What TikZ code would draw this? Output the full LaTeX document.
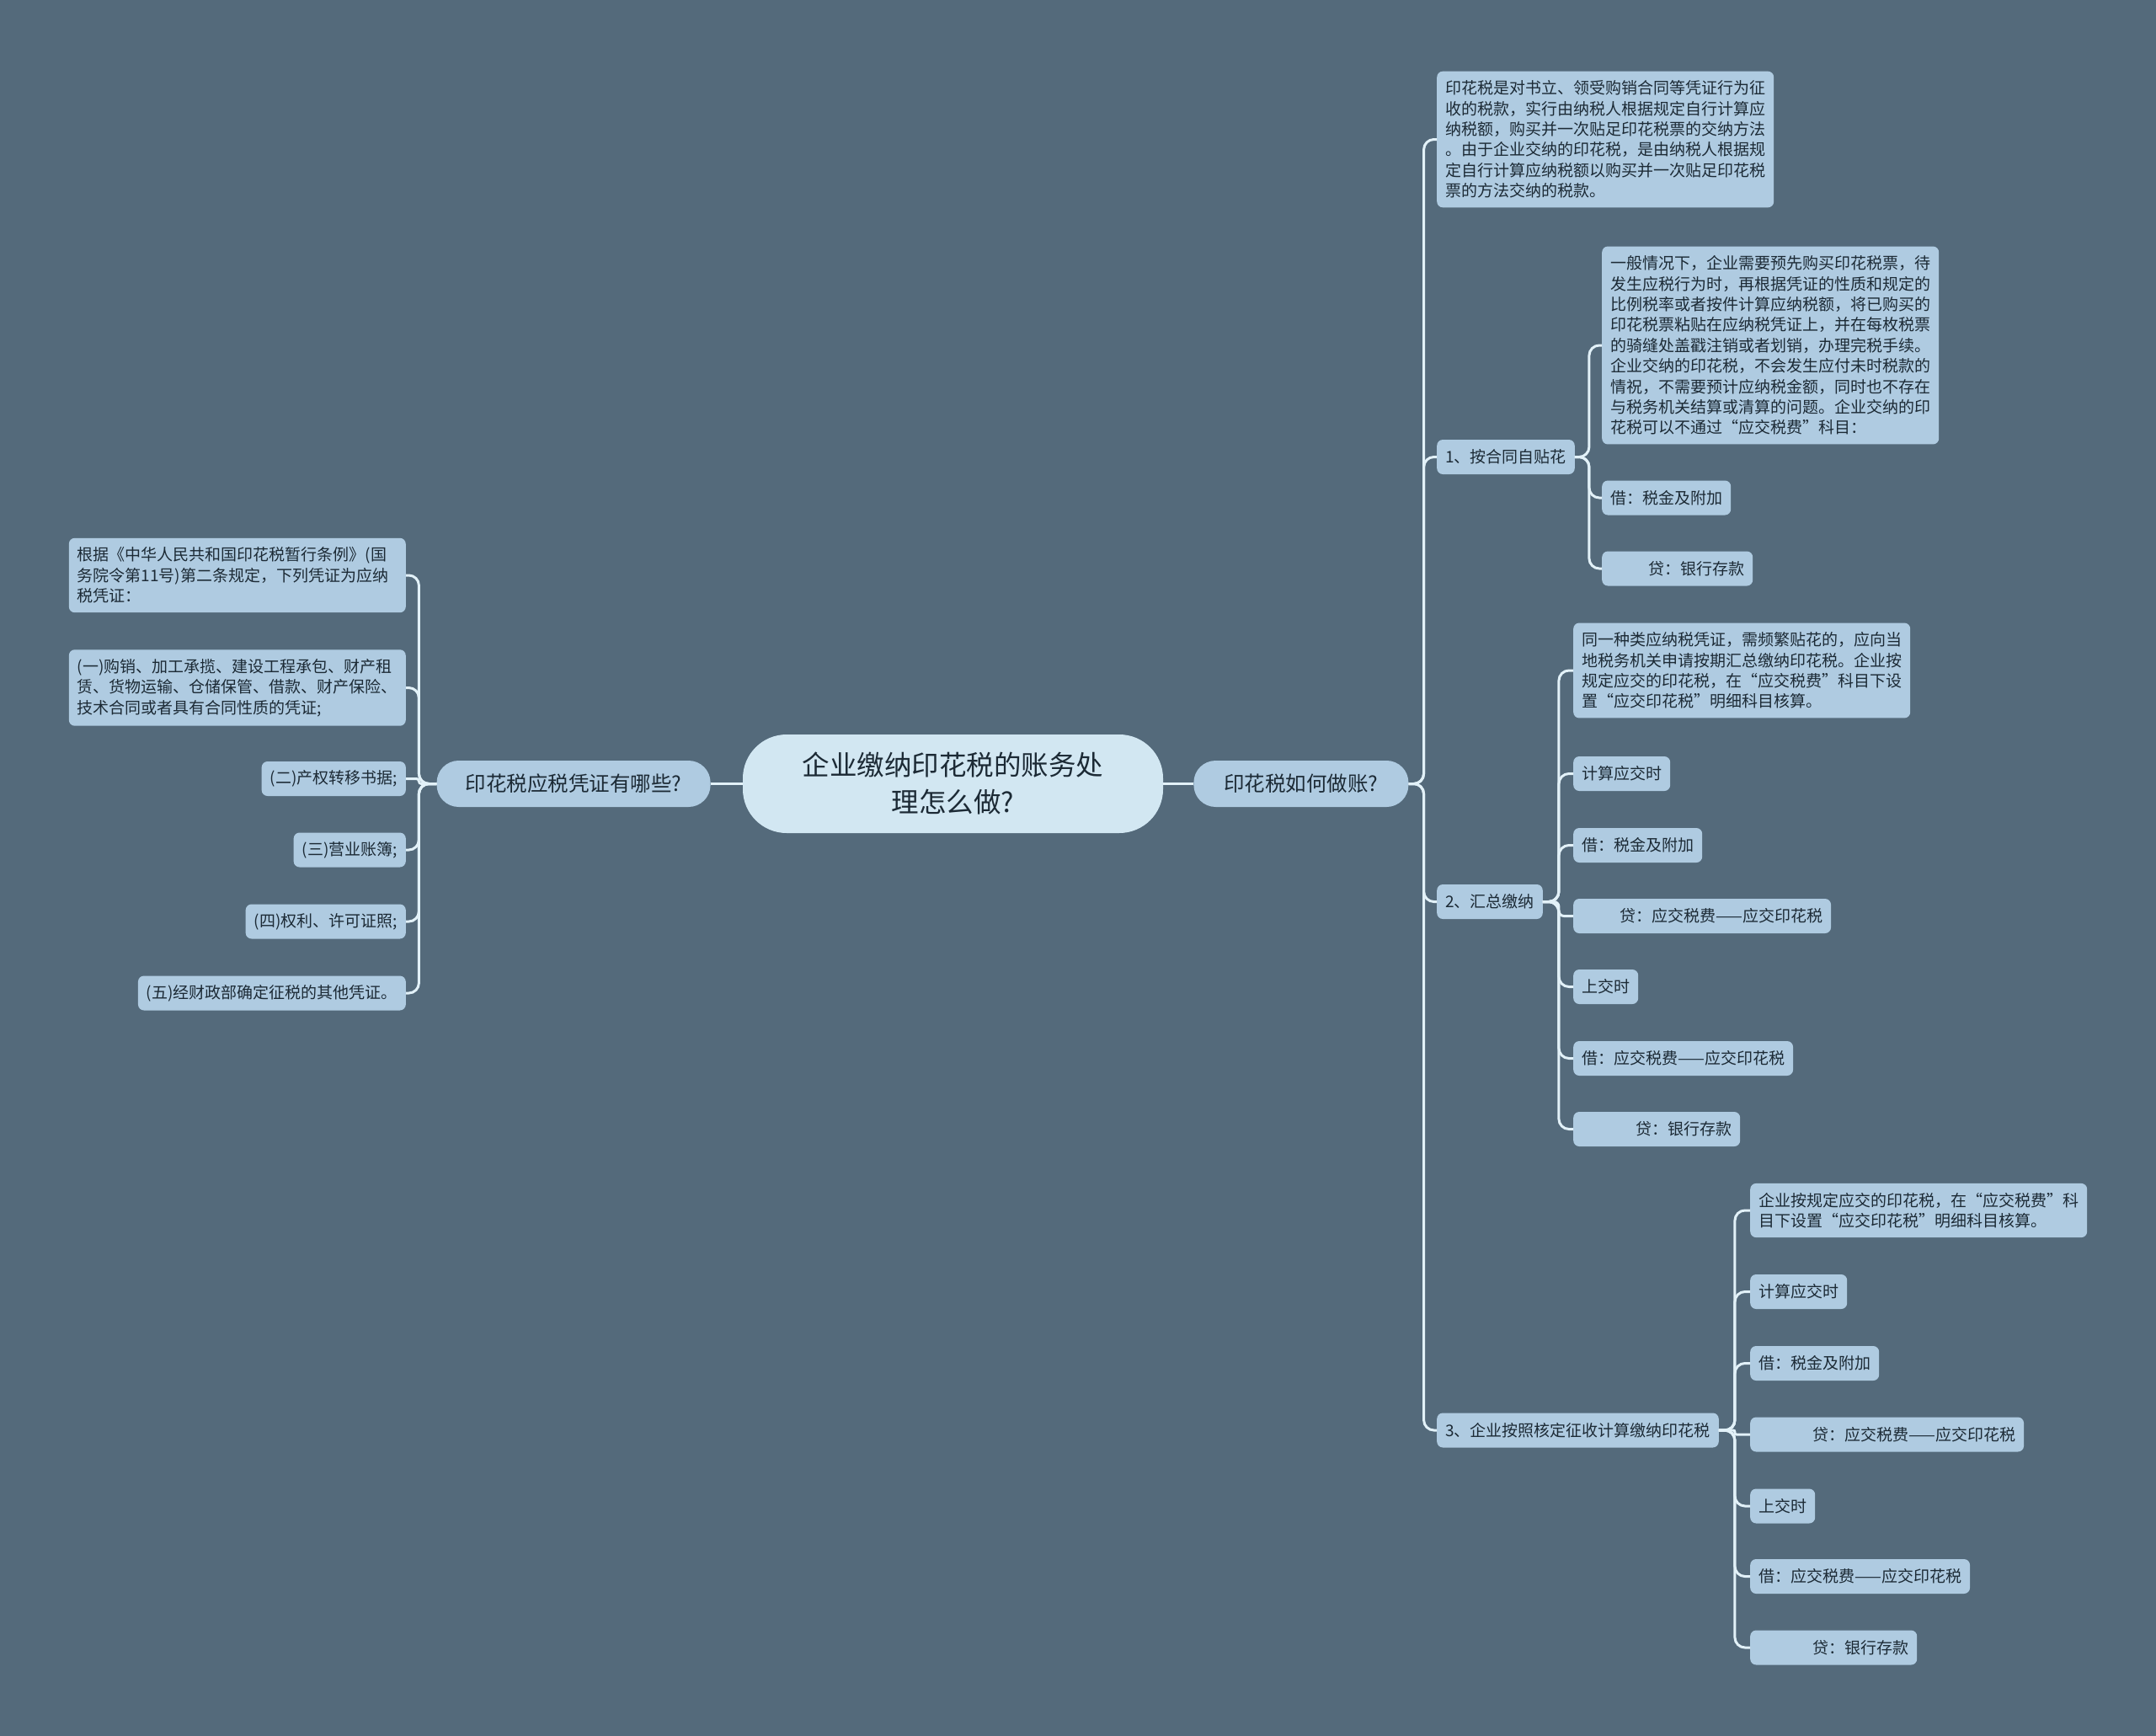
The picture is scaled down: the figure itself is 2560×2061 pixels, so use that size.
\documentclass[tikz,border=0pt]{standalone}
\usepackage{fontspec}
\newfontfamily\cjk{Noto Sans CJK SC}
\usepackage{tikz}
\usetikzlibrary{positioning}
\definecolor{MapBack}{HTML}{546A7B}
\definecolor{MapNode}{HTML}{AFCBE1}
\definecolor{MapRoot}{HTML}{D2E7F2}
\definecolor{MapLine}{HTML}{E2F1F8}
\definecolor{MapText}{HTML}{1C2A35}

\begin{document}
\begin{tikzpicture}[x=1pt,y=-1pt]
  \tikzstyle{rootbox}=[fill=MapRoot,rounded corners=52pt,minimum width=499pt,
    minimum height=117pt,align=center,text=MapText,
    font=\cjk\fontsize{32.5}{44}\selectfont]
  \tikzstyle{mainbox}=[fill=MapNode,rounded corners=26pt,minimum height=55pt,
    text=MapText,font=\cjk\fontsize{24.5}{28}\selectfont]
  \tikzstyle{leafbox}=[fill=MapNode,rounded corners=7pt,minimum height=41pt,
    inner xsep=10pt,text=MapText,font=\cjk\fontsize{19}{24.4}\selectfont]
  \tikzstyle{notebox}=[leafbox,align=left,text width=380pt,inner ysep=11pt]
  \tikzstyle{link}=[draw=MapLine,line width=3pt,rounded corners=12pt]
  \fill[MapBack] (0,0) rectangle (2560,2061);
  \node[rootbox] (root) at (1131.5,930.5) {企业缴纳印花税的账务处\\理怎么做?};
  \node[mainbox,minimum width=255pt,right=36pt of root] (howto) {印花税如何做账?};
  \node[mainbox,minimum width=325pt,left=38pt of root] (which) {印花税应税凭证有哪些?};
  % right side
  \node[notebox,anchor=west] (r1) at (1706,165.5) {印花税是对书立、领受购销合同等凭证行为征\\
    收的税款，实行由纳税人根据规定自行计算应\\
    纳税额，购买并一次贴足印花税票的交纳方法\\
    。由于企业交纳的印花税，是由纳税人根据规\\
    定自行计算应纳税额以购买并一次贴足印花税\\
    票的方法交纳的税款。};
  \node[leafbox,anchor=west] (r2) at (1706,542.5) {1、按合同自贴花};
  \node[leafbox,anchor=west] (r3) at (1706,1070.5) {2、汇总缴纳};
  \node[leafbox,anchor=west] (r4) at (1706,1698) {3、企业按照核定征收计算缴纳印花税};
  % 1
  \node[notebox,anchor=west] (r2a) at (1902,410) {一般情况下，企业需要预先购买印花税票，待\\
    发生应税行为时，再根据凭证的性质和规定的\\
    比例税率或者按件计算应纳税额，将已购买的\\
    印花税票粘贴在应纳税凭证上，并在每枚税票\\
    的骑缝处盖戳注销或者划销，办理完税手续。\\
    企业交纳的印花税，不会发生应付未时税款的\\
    情祝，不需要预计应纳税金额，同时也不存在\\
    与税务机关结算或清算的问题。企业交纳的印\\
    花税可以不通过“应交税费”科目：};
  \node[leafbox,anchor=west] (r2b) at (1902,591) {借：税金及附加};
  \node[leafbox,anchor=west] (r2c) at (1902,675) {\hspace*{45pt}贷：银行存款};
  % 2
  \node[notebox,anchor=west] (r3a) at (1868,796) {同一种类应纳税凭证，需频繁贴花的，应向当\\
    地税务机关申请按期汇总缴纳印花税。企业按\\
    规定应交的印花税，在“应交税费”科目下设\\
    置“应交印花税”明细科目核算。};
  \node[leafbox,anchor=west] (r3b) at (1868,918.5) {计算应交时};
  \node[leafbox,anchor=west] (r3c) at (1868,1003.5) {借：税金及附加};
  \node[leafbox,anchor=west] (r3d) at (1868,1087.5) {\hspace*{45pt}贷：应交税费——应交印花税};
  \node[leafbox,anchor=west] (r3e) at (1868,1171.5) {上交时};
  \node[leafbox,anchor=west] (r3f) at (1868,1256.5) {借：应交税费——应交印花税};
  \node[leafbox,anchor=west] (r3g) at (1868,1340.5) {\hspace*{64pt}贷：银行存款};
  % 3
  \node[notebox,anchor=west] (r4a) at (2078,1437) {企业按规定应交的印花税，在“应交税费”科\\
    目下设置“应交印花税”明细科目核算。};
  \node[leafbox,anchor=west] (r4b) at (2078,1533.5) {计算应交时};
  \node[leafbox,anchor=west] (r4c) at (2078,1618.5) {借：税金及附加};
  \node[leafbox,anchor=west] (r4d) at (2078,1703) {\hspace*{64pt}贷：应交税费——应交印花税};
  \node[leafbox,anchor=west] (r4e) at (2078,1788) {上交时};
  \node[leafbox,anchor=west] (r4f) at (2078,1871.5) {借：应交税费——应交印花税};
  \node[leafbox,anchor=west] (r4g) at (2078,1956) {\hspace*{64pt}贷：银行存款};
  % left side
  \node[notebox,anchor=east] (l1) at (482,683) {根据《中华人民共和国印花税暂行条例》(国\\
    务院令第11号)第二条规定，下列凭证为应纳\\
    税凭证：};
  \node[notebox,anchor=east] (l2) at (482,816.5) {(一)购销、加工承揽、建设工程承包、财产租\\
    赁、货物运输、仓储保管、借款、财产保险、\\
    技术合同或者具有合同性质的凭证;};
  \node[leafbox,anchor=east] (l3) at (482,924.5) {(二)产权转移书据;};
  \node[leafbox,anchor=east] (l4) at (482,1009) {(三)营业账簿;};
  \node[leafbox,anchor=east] (l5) at (482,1094) {(四)权利、许可证照;};
  \node[leafbox,anchor=east] (l6) at (482,1179) {(五)经财政部确定征税的其他凭证。};
  % connectors
  \draw[link] (root.east) -- (howto.west);
  \draw[link] (root.west) -- (which.east);
  \draw[link] (howto.east) -- ++(18,0) |- (r1.west);
  \draw[link] (howto.east) -- ++(18,0) |- (r2.west);
  \draw[link] (howto.east) -- ++(18,0) |- (r3.west);
  \draw[link] (howto.east) -- ++(18,0) |- (r4.west);
  \draw[link] (r2.east) -- ++(17,0) |- (r2a.west);
  \draw[link] (r2.east) -- ++(17,0) |- (r2b.west);
  \draw[link] (r2.east) -- ++(17,0) |- (r2c.west);
  \draw[link] (r3.east) -- ++(19,0) |- (r3a.west);
  \draw[link] (r3.east) -- ++(19,0) |- (r3b.west);
  \draw[link] (r3.east) -- ++(19,0) |- (r3c.west);
  \draw[link,rounded corners=6pt] (r3.east) -- ++(19,0) |- (r3d.west);
  \draw[link] (r3.east) -- ++(19,0) |- (r3e.west);
  \draw[link] (r3.east) -- ++(19,0) |- (r3f.west);
  \draw[link] (r3.east) -- ++(19,0) |- (r3g.west);
  \draw[link] (r4.east) -- ++(19,0) |- (r4a.west);
  \draw[link] (r4.east) -- ++(19,0) |- (r4b.west);
  \draw[link] (r4.east) -- ++(19,0) |- (r4c.west);
  \draw[link,rounded corners=2pt] (r4.east) -- ++(19,0) |- (r4d.west);
  \draw[link] (r4.east) -- ++(19,0) |- (r4e.west);
  \draw[link] (r4.east) -- ++(19,0) |- (r4f.west);
  \draw[link] (r4.east) -- ++(19,0) |- (r4g.west);
  \draw[link] (which.west) -- ++(-21,0) |- (l1.east);
  \draw[link] (which.west) -- ++(-21,0) |- (l2.east);
  \draw[link,rounded corners=3pt] (which.west) -- ++(-21,0) |- (l3.east);
  \draw[link] (which.west) -- ++(-21,0) |- (l4.east);
  \draw[link] (which.west) -- ++(-21,0) |- (l5.east);
  \draw[link] (which.west) -- ++(-21,0) |- (l6.east);
\end{tikzpicture}
\end{document}
